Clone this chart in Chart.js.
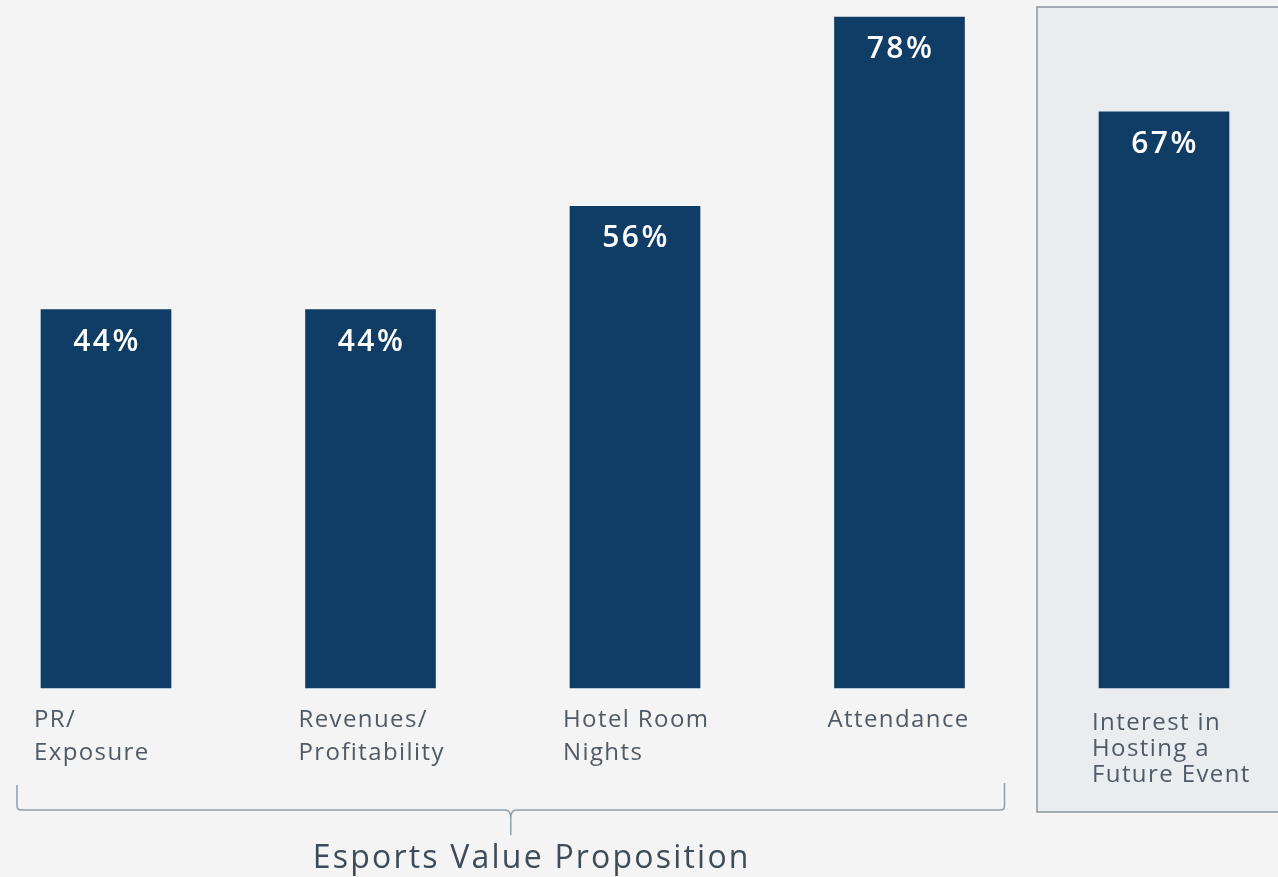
<!DOCTYPE html>
<html>
<head>
<meta charset="utf-8">
<script src="https://cdn.jsdelivr.net/npm/chart.js@4/dist/chart.umd.min.js"></script>
<style>
  html, body { margin: 0; padding: 0; background: #f4f4f4; }
  #wrap { width: 1278px; height: 877px; position: relative; }
</style>
</head>
<body>
<div id="wrap"><canvas id="c" width="1278" height="877"></canvas></div>
<script>
// Categories (multi-line labels) and their shares
const categories = [
  ['PR/', 'Exposure'],
  ['Revenues/', 'Profitability'],
  ['Hotel Room', 'Nights'],
  ['Attendance'],
  ['Interest in', 'Hosting a', 'Future Event']
];
const shares = [44, 44, 56, 78, 67];
const groupTitle = 'Esports Value Proposition';
const valueSuffix = '%';

const NAVY = '#0f3d66';
const LABEL_COLOR = '#4f5a66';
const TITLE_COLOR = '#3e4c5a';
const BRACE_COLOR = '#8c9dab';
const BAR_W = 130;

// Page background plus the highlighted panel behind the last bar
const backdrop = {
  id: 'backdrop',
  beforeDraw(chart) {
    const { ctx, width, height } = chart;
    ctx.save();
    ctx.fillStyle = '#f4f4f4';
    ctx.fillRect(0, 0, width, height);
    ctx.restore();
  },
  beforeDatasetsDraw(chart) {
    const { ctx, width } = chart;
    const x = chart.scales.x;
    const last = categories.length - 1;
    const left = x.getPixelForValue(last) - BAR_W / 2 - 62;
    ctx.save();
    ctx.fillStyle = '#eaedf0';
    ctx.fillRect(left, 7, width - left + 5, 805);
    ctx.strokeStyle = '#8d949b';
    ctx.lineWidth = 1.5;
    ctx.strokeRect(left, 7, width - left + 5, 805);
    ctx.restore();
  }
};

// Value labels inside bars, category labels, brace and group title
const annotate = {
  id: 'annotate',
  afterDatasetsDraw(chart) {
    const { ctx } = chart;
    const meta = chart.getDatasetMeta(0);
    const x = chart.scales.x;
    const y = chart.scales.y;
    const base = y.getPixelForValue(0);
    ctx.save();

    // values
    ctx.fillStyle = '#ffffff';
    ctx.font = '600 30px "Open Sans"';
    ctx.letterSpacing = '2.5px';
    ctx.textAlign = 'center';
    ctx.textBaseline = 'alphabetic';
    meta.data.forEach((bar, i) => {
      ctx.fillText(shares[i] + valueSuffix, bar.x + 1, bar.y + 41);
    });

    // category labels
    ctx.fillStyle = LABEL_COLOR;
    ctx.font = '400 24px "Open Sans"';
    ctx.letterSpacing = '1.4px';
    ctx.textAlign = 'left';
    categories.forEach((lines, i) => {
      const lx = x.getPixelForValue(i) - 72;
      const boxed = i === categories.length - 1;
      const step = boxed ? 26 : 33;
      const first = base + (boxed ? 42 : 39);
      lines.forEach((t, k) => ctx.fillText(t, lx, first + k * step));
    });

    // brace under the first four categories
    const bl = x.getPixelForValue(0) - BAR_W / 2 - 24;
    const br = x.getPixelForValue(3) + BAR_W / 2 + 40;
    const by = base + 122;
    const mid = (bl + br) / 2;
    ctx.strokeStyle = BRACE_COLOR;
    ctx.lineWidth = 1.5;
    ctx.beginPath();
    ctx.moveTo(bl, base + 97);
    ctx.lineTo(bl, by - 4);
    ctx.quadraticCurveTo(bl, by, bl + 4, by);
    ctx.lineTo(mid - 6, by);
    ctx.quadraticCurveTo(mid, by, mid, by + 8);
    ctx.lineTo(mid, by + 25);
    ctx.moveTo(mid, by + 8);
    ctx.quadraticCurveTo(mid, by, mid + 6, by);
    ctx.lineTo(br - 4, by);
    ctx.quadraticCurveTo(br, by, br, by - 4);
    ctx.lineTo(br, base + 95);
    ctx.stroke();

    // group title
    ctx.fillStyle = TITLE_COLOR;
    ctx.font = '400 32px "Open Sans"';
    ctx.letterSpacing = '2.2px';
    ctx.textAlign = 'center';
    ctx.fillText(groupTitle, mid + 21, base + 180);
    ctx.restore();
  }
};

new Chart(document.getElementById('c'), {
  type: 'bar',
  data: {
    labels: categories,
    datasets: [{
      data: shares,
      backgroundColor: NAVY,
      borderWidth: 0,
      barThickness: BAR_W,
      clip: false
    }]
  },
  options: {
    responsive: false,
    animation: false,
    layout: { padding: { left: 106, right: 114, top: 0, bottom: 189 } },
    plugins: { legend: { display: false }, tooltip: { enabled: false } },
    scales: {
      x: { display: false, offset: false },
      y: { display: false, min: 0, max: 80 }
    }
  },
  plugins: [backdrop, annotate]
});
</script>
</body>
</html>
